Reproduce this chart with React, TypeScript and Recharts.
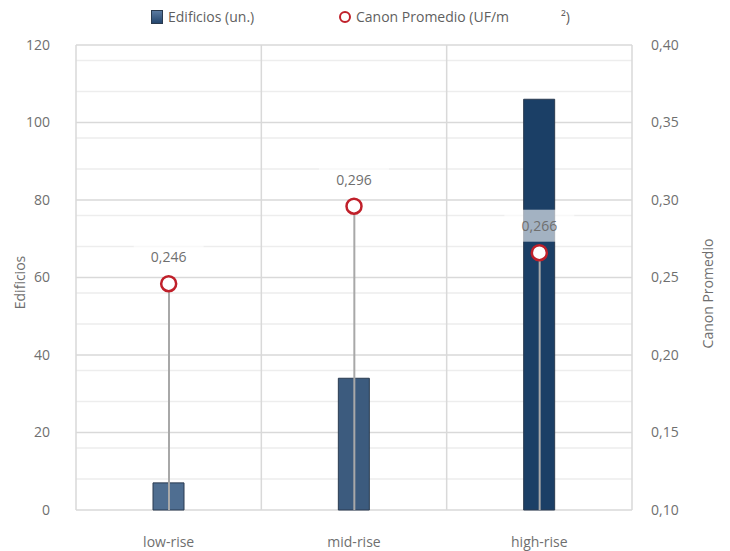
import React from 'react';
import {
  ComposedChart,
  Bar,
  Scatter,
  XAxis,
  YAxis,
  CartesianGrid,
  Cell,
} from 'recharts';

const categories = ['low-rise', 'mid-rise', 'high-rise'];
const edificios = [7, 34, 106];
const canon = [0.246, 0.296, 0.266];
const barColors = ['#4f6e91', '#3c5b7e', '#1b3f66'];

const leftTicks = [0, 20, 40, 60, 80, 100, 120];
const minorTicks = [4, 8, 12, 16, 24, 28, 32, 36, 44, 48, 52, 56, 64, 68, 72, 76, 84, 88, 92, 96, 104, 108, 112, 116];
const rightTicks = [0.1, 0.15, 0.2, 0.25, 0.3, 0.35, 0.4];
const sepTicks = [0, 1, 2, 3];

const data = categories.map((c, i) => ({
  cat: c,
  idx: i,
  edificios: edificios[i],
  canon: canon[i],
}));

const FONT = '"Open Sans", sans-serif';
const TXT = '#6f6f6f';

const fmt = (v: number, d: number) => v.toFixed(d).replace('.', ',');

const PointShape = (props: any) => {
  const { cx, cy, payload } = props;
  if (cx == null || cy == null) return null;
  return (
    <g>
      <rect x={cx - 35} y={cy - 43} width={70} height={32} fill="#ffffff" fillOpacity={0.6} />
      <text
        x={cx}
        y={cy - 27}
        textAnchor="middle"
        dominantBaseline="central"
        fontFamily={FONT}
        fontSize={14}
        fill={TXT}
      >
        {fmt(payload.canon, 3)}
      </text>
      <circle cx={cx} cy={cy} r={7.5} fill="#ffffff" stroke="#c0202a" strokeWidth={2.5} />
    </g>
  );
};

const XTick = (props: any) => {
  const { x, payload } = props;
  return (
    <text
      x={x}
      y={541}
      textAnchor="middle"
      dominantBaseline="central"
      fontFamily={FONT}
      fontSize={14}
      fill={TXT}
    >
      {payload.value}
    </text>
  );
};

const LeftTitle = (props: any) => {
  const vb = props.viewBox || {};
  const x = vb.x + 19;
  const y = vb.y + vb.height / 2 + 5;
  return (
    <text
      x={x}
      y={y}
      transform={`rotate(-90, ${x}, ${y})`}
      textAnchor="middle"
      dominantBaseline="central"
      fontFamily={FONT}
      fontSize={14}
      fill={TXT}
    >
      Edificios
    </text>
  );
};

const RightTitle = (props: any) => {
  const vb = props.viewBox || {};
  const x = vb.x + 75;
  const y = vb.y + vb.height / 2 + 16;
  return (
    <text
      x={x}
      y={y}
      transform={`rotate(-90, ${x}, ${y})`}
      textAnchor="middle"
      dominantBaseline="central"
      fontFamily={FONT}
      fontSize={14}
      fill={TXT}
    >
      Canon Promedio
    </text>
  );
};

const LegendBox = () => (
  <div
    style={{
      position: 'absolute',
      left: 0,
      top: 0,
      width: 730,
      height: 36,
      fontFamily: FONT,
      fontSize: 14,
      color: '#5f5f5f',
      pointerEvents: 'none',
    }}
  >
    <div
      style={{
        position: 'absolute',
        left: 151,
        top: 10,
        width: 10,
        height: 12,
        background: 'linear-gradient(#5a7aa0, #24466e)',
        border: '1px solid #2a3a4e',
      }}
    />
    <span style={{ position: 'absolute', left: 168, top: 7, lineHeight: '20px' }}>Edificios (un.)</span>
    <div
      style={{
        position: 'absolute',
        left: 339,
        top: 11,
        width: 8,
        height: 8,
        borderRadius: '50%',
        border: '2.5px solid #c0202a',
        background: '#fff',
      }}
    />
    <span style={{ position: 'absolute', left: 356, top: 7, lineHeight: '20px' }}>Canon Promedio (UF/m</span>
    <span style={{ position: 'absolute', left: 561, top: 7, lineHeight: '20px' }}>²)</span>
  </div>
);

export default function App() {
  return (
    <div style={{ position: 'absolute', left: 0, top: 0, width: 730, height: 551, background: '#fff' }}>
      <ComposedChart
        width={730}
        height={551}
        data={data}
        margin={{ top: 45, right: 0, bottom: 0, left: 0 }}
      >
        <XAxis xAxisId="sep" type="number" dataKey="idx" domain={[0, 3]} ticks={sepTicks} hide />
        <XAxis xAxisId="drop" dataKey="cat" hide />
        <XAxis
          xAxisId="main"
          dataKey="cat"
          axisLine={false}
          tickLine={false}
          tickSize={0}
          tickMargin={10}
          height={41}
          tick={<XTick />}
        />
        <YAxis
          yAxisId="left"
          orientation="left"
          width={76}
          domain={[0, 120]}
          ticks={leftTicks}
          axisLine={false}
          tickLine={false}
          tickSize={0}
          tickMargin={26}
          tick={{ fill: TXT, fontFamily: FONT, fontSize: 14 }}
          label={{ content: (p: any) => <LeftTitle {...p} /> }}
        />
        <YAxis
          yAxisId="right"
          orientation="right"
          width={98}
          domain={[0.1, 0.4]}
          ticks={rightTicks}
          axisLine={false}
          tickLine={false}
          tickSize={0}
          tickMargin={19}
          tickFormatter={(v: number) => fmt(v, 2)}
          tick={{ fill: TXT, fontFamily: FONT, fontSize: 14 }}
          label={{ content: (p: any) => <RightTitle {...p} /> }}
        />
        <CartesianGrid
          xAxisId="sep"
          yAxisId="left"
          vertical={false}
          horizontalValues={minorTicks}
          stroke="#ededed"
          strokeWidth={1.5}
        />
        <CartesianGrid
          xAxisId="sep"
          yAxisId="left"
          horizontalValues={leftTicks}
          verticalValues={sepTicks}
          stroke="#d9d9d9"
          strokeWidth={1.5}
        />
        <Bar
          xAxisId="main"
          yAxisId="left"
          dataKey="edificios"
          barSize={31}
          stroke="#2a3b50"
          strokeWidth={1}
          isAnimationActive={false}
        >
          {data.map((d, i) => (
            <Cell key={d.cat} fill={barColors[i]} />
          ))}
        </Bar>
        <Bar
          xAxisId="drop"
          yAxisId="right"
          dataKey="canon"
          barSize={2}
          fill="#a8a8a8"
          isAnimationActive={false}
        />
        <Scatter
          xAxisId="main"
          yAxisId="right"
          dataKey="canon"
          shape={PointShape}
          isAnimationActive={false}
        />
      </ComposedChart>
      <LegendBox />
    </div>
  );
}
